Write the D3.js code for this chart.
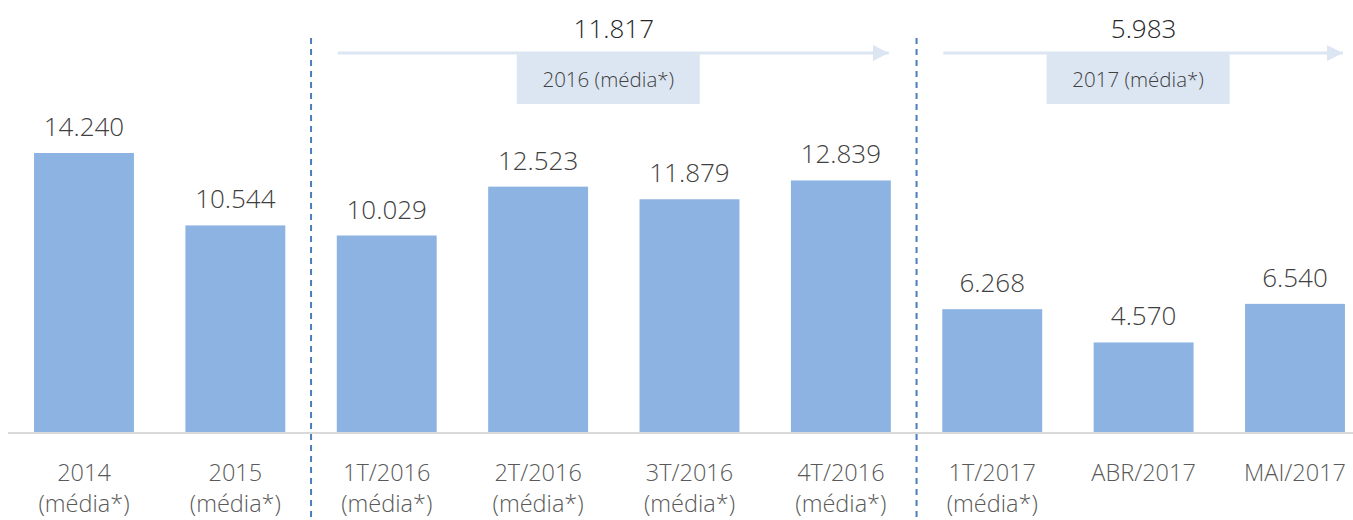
<!DOCTYPE html>
<html>
<head>
<meta charset="utf-8">
<script src="https://cdn.jsdelivr.net/npm/d3@7"></script>
<style>
  html, body { margin: 0; padding: 0; background: #fff; }
  svg { display: block; font-family: "Open Sans", "Noto Sans", sans-serif; }
</style>
</head>
<body>
<svg id="chart"></svg>
<script>
// data
const categories = [
  ["2014", "(média*)"], ["2015", "(média*)"],
  ["1T/2016", "(média*)"], ["2T/2016", "(média*)"], ["3T/2016", "(média*)"], ["4T/2016", "(média*)"],
  ["1T/2017", "(média*)"], ["ABR/2017"], ["MAI/2017"]
];
const values = [14240, 10544, 10029, 12523, 11879, 12839, 6268, 4570, 6540];
const periods = [
  { label: "2016 (média*)", avg: 11817, from: 2, to: 5 },
  { label: "2017 (média*)", avg: 5983, from: 6, to: 8 }
];
const dividers = [2, 6]; // dashed line before these bar indexes

const W = 1353, H = 520;
const baseY = 432;
const fmt = v => d3.format(",")(v).replace(/,/g, ".");

const svg = d3.select("#chart").attr("width", W).attr("height", H);

const x = d3.scaleBand()
  .domain(d3.range(values.length))
  .range([8.3, 8.3 + 151.375 * values.length])
  .paddingInner(0.34)
  .paddingOuter(0.17);

const y = d3.scaleLinear()
  .domain([0, 14240])
  .range([baseY, 153]);

// bars
svg.selectAll("rect.bar")
  .data(values)
  .join("rect")
  .attr("class", "bar")
  .attr("x", (d, i) => x(i))
  .attr("width", x.bandwidth())
  .attr("y", d => y(d))
  .attr("height", d => baseY - y(d))
  .attr("fill", "#8db3e2");

// baseline
svg.append("line")
  .attr("x1", 8).attr("x2", W)
  .attr("y1", baseY + 1).attr("y2", baseY + 1)
  .attr("stroke", "#d9d9d9").attr("stroke-width", 2);

// value labels
svg.selectAll("text.val")
  .data(values)
  .join("text")
  .attr("class", "val")
  .attr("x", (d, i) => x(i) + x.bandwidth() / 2)
  .attr("y", d => y(d) - 17)
  .attr("text-anchor", "middle")
  .style("font-size", "26px")
  .style("font-weight", 300)
  .style("fill", "#404040")
  .text(d => fmt(d));

// category labels
const cat = svg.selectAll("text.cat")
  .data(categories)
  .join("text")
  .attr("class", "cat")
  .attr("x", (d, i) => x(i) + x.bandwidth() / 2)
  .attr("y", 481)
  .attr("text-anchor", "middle")
  .style("font-size", "23.5px")
  .style("font-weight", 300)
  .style("fill", "#595959");
cat.selectAll("tspan")
  .data(d => d)
  .join("tspan")
  .attr("x", function () { return d3.select(this.parentNode).attr("x"); })
  .attr("dy", (d, j) => j === 0 ? 0 : 31)
  .text(d => d);

// dashed dividers
const step = x.step();
svg.selectAll("line.div")
  .data(dividers)
  .join("line")
  .attr("class", "div")
  .attr("x1", d => x(d) - (step - x.bandwidth()) / 2)
  .attr("x2", d => x(d) - (step - x.bandwidth()) / 2)
  .attr("y1", 38).attr("y2", H)
  .attr("stroke", "#4a7ebb")
  .attr("stroke-width", 2)
  .attr("stroke-dasharray", "6 5");

// period arrows, boxes and averages
svg.append("defs").append("marker")
  .attr("id", "head")
  .attr("viewBox", "0 0 16 16")
  .attr("refX", 16).attr("refY", 8)
  .attr("markerWidth", 16).attr("markerHeight", 16)
  .attr("markerUnits", "userSpaceOnUse")
  .attr("orient", "auto")
  .append("path")
  .attr("d", "M0,0L16,8L0,16Z")
  .attr("fill", "#dce6f2");

const pg = svg.selectAll("g.period")
  .data(periods)
  .join("g")
  .attr("class", "period");

pg.append("line")
  .attr("x1", d => x(d.from) + 1)
  .attr("x2", d => Math.min(x(d.to) + x.bandwidth() - 2, W - 3))
  .attr("y1", 53).attr("y2", 53)
  .attr("stroke", "#dce6f2")
  .attr("stroke-width", 3)
  .attr("marker-end", "url(#head)");

const cx = d => (x(d.from) + Math.min(x(d.to) + x.bandwidth(), W)) / 2;

pg.append("rect")
  .attr("x", d => cx(d) - 97)
  .attr("y", 54)
  .attr("width", 183)
  .attr("height", 50)
  .attr("fill", "#dce6f2");

pg.append("text")
  .attr("x", d => cx(d) - 5.5)
  .attr("y", 87)
  .attr("text-anchor", "middle")
  .style("font-size", "20.5px")
  .style("font-weight", 300)
  .style("fill", "#404040")
  .text(d => d.label);

pg.append("text")
  .attr("x", cx)
  .attr("y", 38)
  .attr("text-anchor", "middle")
  .style("font-size", "26px")
  .style("font-weight", 300)
  .style("fill", "#262626")
  .text(d => fmt(d.avg));
</script>
</body>
</html>
